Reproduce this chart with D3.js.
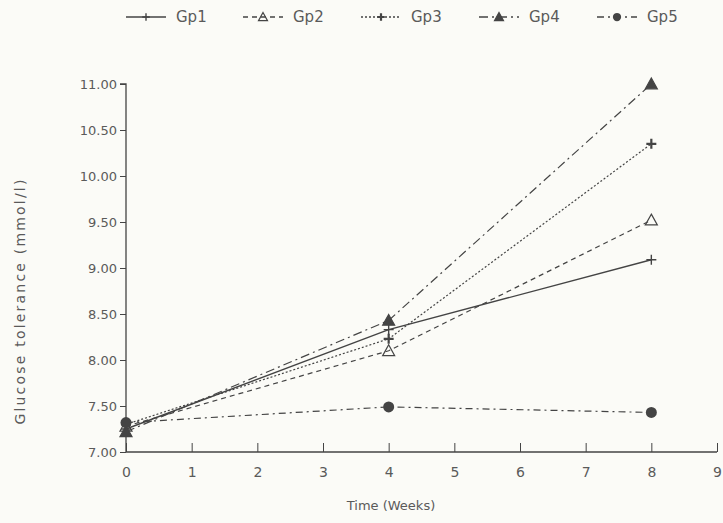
<!DOCTYPE html>
<html><head><meta charset="utf-8">
<script src="https://cdn.jsdelivr.net/npm/d3@7"></script>
<style>
body{margin:0;background:#fbfbf7;}
svg{display:block;background:#fbfbf7;}
text{font-family:"DejaVu Sans",sans-serif;fill:#5a5a5a;}
</style></head><body>
<svg id="c" width="723" height="523"></svg>
<script>
const weeks = [0, 4, 8];
const seriesNames = ["Gp1", "Gp2", "Gp3", "Gp4", "Gp5"];
const gp1 = [7.25, 8.33, 9.09];
const gp2 = [7.28, 8.10, 9.52];
const gp3 = [7.30, 8.23, 10.35];
const gp4 = [7.22, 8.43, 11.00];
const gp5 = [7.32, 7.49, 7.43];
const yTicks = [7.0, 7.5, 8.0, 8.5, 9.0, 9.5, 10.0, 10.5, 11.0];
const xTicks = [0,1,2,3,4,5,6,7,8,9];

const values = [gp1, gp2, gp3, gp4, gp5];
const dashes = [null, "5,4", "2,2", "9,4,2,4", "7,4,2,4"];
const markers = ["plus", "tri-open", "plus-bold", "tri", "circle"];
const ink = "#444";
const font = "'DejaVu Sans',sans-serif";

const svg = d3.select("#c");
const x = d3.scaleLinear().domain([0, 9]).range([126, 717]);
const y = d3.scaleLinear().domain([7, 11]).range([452, 84]);

// axes
const yAxis = d3.axisLeft(y).tickValues(yTicks).tickFormat(d3.format(".2f")).tickSize(6).tickPadding(3);
const gy = svg.append("g").attr("transform", `translate(${x(0)},0)`).call(yAxis);
gy.select(".domain").attr("stroke", ink).attr("stroke-width", 1.3).attr("d", `M-6,${y(11)}H0V${y(7)}`);
gy.selectAll(".tick line").attr("stroke", ink);
gy.selectAll(".tick text").style("font-size", "13px").attr("fill", "#5a5a5a").style("font-family", font);

const xAxis = d3.axisBottom(x).tickValues(xTicks).tickSize(-9).tickPadding(15);
const gx = svg.append("g").attr("transform", `translate(0,${y(7)})`).call(xAxis);
gx.select(".domain").attr("stroke", ink).attr("stroke-width", 1.3).attr("d", `M${x(0)},0H${x(9)}`);
gx.selectAll(".tick line").attr("stroke", ink);
gx.selectAll(".tick text").style("font-size", "14px").attr("fill", "#5a5a5a").style("font-family", font);

// axis titles
svg.append("text").attr("transform", `translate(20,${(y(7)+y(11))/2 + 33}) rotate(-90)`)
  .attr("text-anchor", "middle").style("font-size", "14px").style("letter-spacing", "2.2px").attr("dy", "0.35em")
  .text("Glucose  tolerance  (mmol/l)");
svg.append("text").attr("x", 391).attr("y", 510).attr("text-anchor", "middle")
  .style("font-size", "13px").text("Time  (Weeks)");

function drawMarker(g, type, cx, cy, sc) {
  sc = sc || 1;
  if (type === "plus" || type === "plus-bold") {
    const s = 5 * sc, w = type === "plus" ? 1.4 : 2.2;
    g.append("path").attr("d", `M${cx-s},${cy}H${cx+s}M${cx},${cy-s}V${cy+s}`)
      .attr("stroke", ink).attr("stroke-width", w).attr("fill", "none");
  } else if (type === "tri" || type === "tri-open") {
    const s = 6 * sc;
    g.append("path").attr("d", `M${cx},${cy-s}L${cx+s},${cy+s*0.8}L${cx-s},${cy+s*0.8}Z`)
      .attr("stroke", ink).attr("stroke-width", 1.2)
      .attr("fill", type === "tri" ? ink : "none");
  } else if (type === "circle") {
    g.append("circle").attr("cx", cx).attr("cy", cy).attr("r", 5.5 * sc).attr("fill", ink);
  }
}

const line = d3.line().x((d, i) => x(weeks[i])).y(d => y(d));
values.forEach((vals, si) => {
  const g = svg.append("g");
  g.append("path").datum(vals).attr("d", line).attr("fill", "none")
    .attr("stroke", ink).attr("stroke-width", si === 0 ? 1.4 : 1.2)
    .attr("stroke-dasharray", dashes[si]);
  vals.forEach((v, i) => drawMarker(g, markers[si], x(weeks[i]), y(v)));
});

// legend
const legX = [126, 243, 361, 479, 597];
const legY = 17;
seriesNames.forEach((name, si) => {
  const g = svg.append("g");
  g.append("line").attr("x1", legX[si]).attr("x2", legX[si] + 40).attr("y1", legY).attr("y2", legY)
    .attr("stroke", ink).attr("stroke-width", 1.3).attr("stroke-dasharray", dashes[si]);
  drawMarker(g, markers[si], legX[si] + 20, legY, 0.75);
  g.append("text").attr("x", legX[si] + 50).attr("y", legY).attr("dy", "0.35em")
    .style("font-size", "15px").text(name);
});
</script>
</body></html>
